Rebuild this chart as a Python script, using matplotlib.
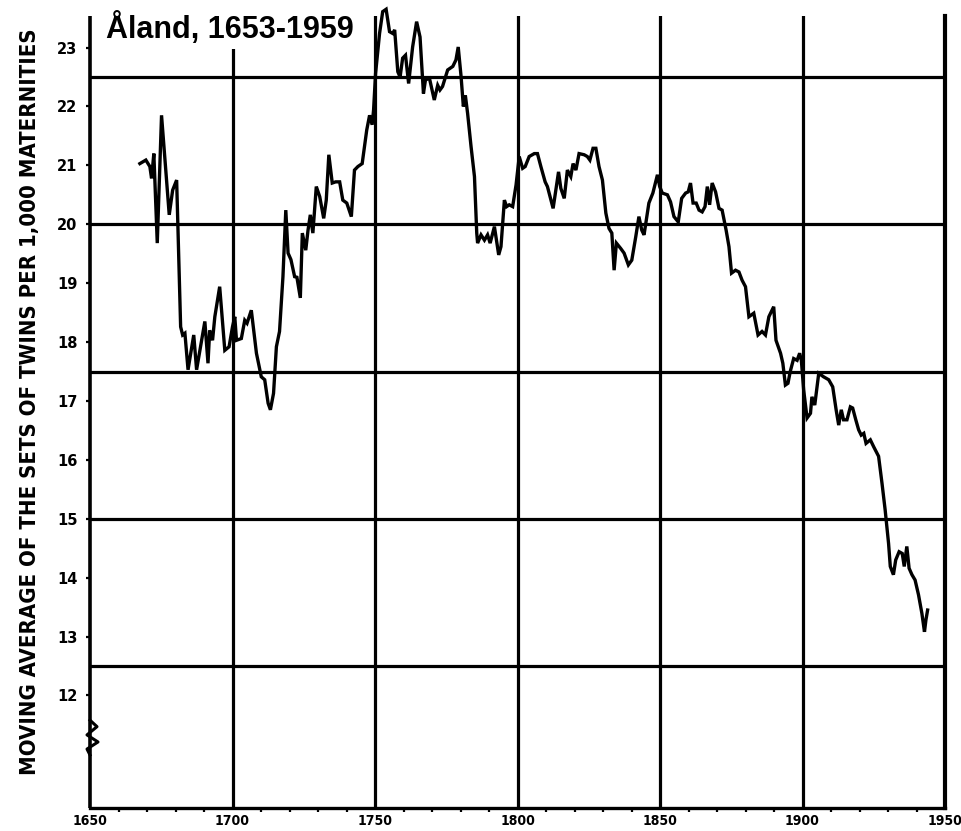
import matplotlib
matplotlib.use("Agg")
import matplotlib.pyplot as plt
import matplotlib.transforms as mtransforms
from matplotlib.ticker import MultipleLocator, FixedLocator

# Moving average of twin sets per 1,000 maternities, Åland
years = [
    1667.5, 1669.6, 1671.0, 1671.6, 1672.4, 1673.6, 1675.1, 1676.3, 1677.8, 1679.0,
    1680.4, 1681.8, 1682.5, 1683.3, 1684.4, 1686.4, 1687.4, 1690.3, 1691.4, 1692.0,
    1693.0, 1693.8, 1695.5, 1697.3, 1698.8, 1700.0, 1700.8, 1701.4, 1703.1, 1704.3,
    1705.1, 1706.6, 1708.4, 1710.1, 1711.3, 1712.5, 1713.3, 1714.4, 1715.4, 1716.5,
    1717.7, 1718.7, 1719.5, 1720.5, 1721.8, 1722.6, 1723.8, 1724.5, 1725.7, 1726.5,
    1727.3, 1728.2, 1729.4, 1730.6, 1732.0, 1732.9, 1733.8, 1735.0, 1736.2, 1737.6,
    1738.7, 1740.1, 1741.7, 1742.8, 1744.0, 1745.5, 1747.1, 1748.1, 1749.0, 1749.5,
    1750.2, 1751.6, 1752.7, 1753.9, 1755.1, 1756.2, 1756.9, 1758.0, 1758.8, 1759.7,
    1760.7, 1761.8, 1763.2, 1764.6, 1765.8, 1767.0, 1767.7, 1769.1, 1770.8, 1772.0,
    1772.8, 1773.7, 1775.5, 1777.3, 1778.4, 1779.2, 1780.2, 1781.0, 1781.7, 1782.5,
    1783.7, 1784.9, 1785.7, 1786.0, 1787.2, 1788.4, 1789.5, 1790.4, 1791.9, 1793.4,
    1794.2, 1795.4, 1796.2, 1797.1, 1798.3, 1799.5, 1800.6, 1801.8, 1802.7, 1804.1,
    1805.9, 1807.0, 1808.2, 1809.7, 1810.5, 1812.5, 1814.4, 1815.2, 1816.4, 1817.5,
    1818.7, 1819.5, 1820.5, 1821.6, 1823.4, 1824.5, 1825.4, 1826.5, 1827.5, 1828.6,
    1829.8, 1831.0, 1832.1, 1833.1, 1833.9, 1834.7, 1836.2, 1837.4, 1838.9, 1840.1,
    1841.5, 1842.6, 1843.6, 1844.4, 1846.1, 1847.5, 1849.1, 1849.9, 1850.8, 1852.6,
    1853.7, 1854.9, 1856.4, 1857.6, 1859.0, 1859.9, 1860.7, 1861.6, 1862.7, 1863.7,
    1864.8, 1865.8, 1866.6, 1867.4, 1868.3, 1869.5, 1870.7, 1871.8, 1873.2, 1874.2,
    1875.1, 1876.5, 1877.7, 1878.8, 1880.0, 1881.2, 1882.9, 1884.4, 1885.8, 1887.0,
    1888.2, 1889.9, 1890.7, 1892.3, 1893.1, 1894.0, 1894.9, 1895.7, 1896.9, 1898.1,
    1899.0, 1899.6, 1900.4, 1901.6, 1902.8, 1903.3, 1904.3, 1905.7, 1907.4, 1909.2,
    1910.6, 1911.8, 1912.7, 1913.6, 1914.4, 1915.6, 1916.8, 1917.6, 1918.7, 1919.7,
    1920.6, 1921.5, 1922.3, 1923.8, 1925.0, 1926.7, 1927.9, 1929.0, 1930.2, 1930.8,
    1931.9, 1932.7, 1933.9, 1935.0, 1935.7, 1936.6, 1937.4, 1938.4, 1939.5, 1940.7,
    1941.9, 1942.8, 1943.3, 1943.9,
]
twin_rate = [
    21.03, 21.09, 20.98, 20.78, 21.20, 19.68, 21.85, 21.09, 20.16, 20.58,
    20.75, 18.26, 18.12, 18.15, 17.53, 18.12, 17.53, 18.35, 17.64, 18.20,
    18.03, 18.43, 18.94, 17.86, 17.92, 18.26, 18.43, 18.03, 18.06, 18.37,
    18.32, 18.54, 17.81, 17.41, 17.36, 16.96, 16.85, 17.13, 17.92, 18.18,
    19.11, 20.24, 19.51, 19.40, 19.11, 19.10, 18.75, 19.85, 19.56, 19.90,
    20.16, 19.85, 20.64, 20.47, 20.10, 20.41, 21.18, 20.70, 20.72, 20.72,
    20.41, 20.36, 20.13, 20.92, 20.98, 21.03, 21.60, 21.85, 21.69, 21.94,
    22.56, 23.24, 23.61, 23.65, 23.27, 23.24, 23.30, 22.59, 22.50, 22.82,
    22.87, 22.39, 23.01, 23.44, 23.18, 22.22, 22.45, 22.48, 22.11, 22.36,
    22.28, 22.34, 22.62, 22.68, 22.79, 23.01, 22.51, 22.00, 22.19, 21.88,
    21.32, 20.81, 19.85, 19.68, 19.82, 19.73, 19.82, 19.68, 19.96, 19.48,
    19.62, 20.41, 20.30, 20.33, 20.30, 20.67, 21.15, 20.95, 20.98, 21.15,
    21.20, 21.20, 20.98, 20.72, 20.64, 20.27, 20.89, 20.61, 20.44, 20.92,
    20.81, 21.03, 20.92, 21.20, 21.18, 21.15, 21.09, 21.29, 21.29, 20.98,
    20.75, 20.19, 19.93, 19.85, 19.22, 19.68, 19.59, 19.51, 19.31, 19.39,
    19.79, 20.13, 19.90, 19.82, 20.36, 20.53, 20.84, 20.64, 20.53, 20.50,
    20.38, 20.13, 20.04, 20.44, 20.53, 20.55, 20.70, 20.36, 20.36, 20.24,
    20.21, 20.30, 20.64, 20.33, 20.70, 20.55, 20.27, 20.24, 19.90, 19.62,
    19.17, 19.22, 19.19, 19.05, 18.94, 18.43, 18.49, 18.12, 18.18, 18.12,
    18.43, 18.60, 18.03, 17.81, 17.64, 17.27, 17.30, 17.50, 17.72, 17.69,
    17.81, 17.69, 17.19, 16.71, 16.79, 17.07, 16.93, 17.47, 17.41, 17.36,
    17.24, 16.85, 16.59, 16.85, 16.68, 16.68, 16.90, 16.88, 16.68, 16.51,
    16.42, 16.45, 16.28, 16.34, 16.22, 16.06, 15.60, 15.15, 14.58, 14.19,
    14.05, 14.30, 14.44, 14.41, 14.19, 14.53, 14.16, 14.05, 13.96, 13.71,
    13.39, 13.08, 13.28, 13.45,
]

x_major_ticks = [1650, 1700, 1750, 1800, 1850, 1900, 1950]
x_tick_labels = ["1650", "1700", "1750", "1800", "1850", "1900", "1950"]
y_ticks = [12, 13, 14, 15, 16, 17, 18, 19, 20, 21, 22, 23]
y_tick_labels = [str(v) for v in y_ticks]
grid_years = [1700, 1750, 1800, 1850, 1900]
grid_levels = [12.5, 15.0, 17.5, 20.0, 22.5]

title = "Åland, 1653-1959"
ylabel = "MOVING AVERAGE OF THE SETS OF TWINS PER 1,000 MATERNITIES"

W, H = 962, 831
fig = plt.figure(figsize=(W / 100, H / 100), dpi=100)
fig.patch.set_facecolor("white")

ax_left, ax_right, ax_top, ax_bottom = 90, 945, 16, 808
ax = fig.add_axes([ax_left / W, 1 - ax_bottom / H,
                   (ax_right - ax_left) / W, (ax_bottom - ax_top) / H])
ax.set_xlim(1650, 1950)
ax.set_ylim(10.089, 23.536)

ink = "black"
grid_lw = 2.3

for gy in grid_levels:
    ax.axhline(gy, color=ink, lw=grid_lw, zorder=1)
for gx in grid_years:
    ax.axvline(gx, color=ink, lw=grid_lw, zorder=1)

# the curve is allowed to run past the top of the frame
ax.plot(years, twin_rate, color=ink, lw=2.4, solid_joinstyle="miter",
        clip_on=False, zorder=3)

# frame: bottom and right spines, left spine broken with a zigzag
ax.spines["top"].set_visible(False)
ax.spines["left"].set_visible(False)
ax.spines["bottom"].set_linewidth(2.4)
ax.spines["right"].set_linewidth(3.0)

trans = mtransforms.blended_transform_factory(ax.transAxes, ax.transData)
span = ax_right - ax_left
ax.plot([0, 0], [10.989, 23.536], color=ink, lw=2.6, transform=trans,
        clip_on=False, solid_capstyle="butt", zorder=4)
ax.plot([0, 0], [10.089, 10.989], color=ink, lw=2.6, transform=trans,
        clip_on=False, solid_capstyle="butt", zorder=4)
zig_dx = [0.0, 7.0, -3.0, 8.0, -3.0, 0.0]
zig_y = [11.58, 11.47, 11.33, 11.21, 11.09, 10.989]
ax.plot([d / span for d in zig_dx], zig_y, color=ink, lw=2.2,
        transform=trans, clip_on=False, zorder=4)

ax.xaxis.set_major_locator(FixedLocator(x_major_ticks))
ax.set_xticklabels(x_tick_labels, fontsize=10, fontweight="bold",
                   fontstretch="condensed")
ax.xaxis.set_minor_locator(MultipleLocator(10))
ax.tick_params(axis="x", which="major", length=0, pad=4)
ax.tick_params(axis="x", which="minor", length=3, width=1.6,
               direction="out")

ax.yaxis.set_major_locator(FixedLocator(y_ticks))
ax.set_yticklabels(y_tick_labels, fontsize=10.5, fontweight="bold")
ax.tick_params(axis="y", which="major", length=3, width=1.6,
               direction="out", pad=6, left=True, right=False)

fig.text(106 / W, 1 - 38 / H, title, ha="left", va="baseline",
         fontsize=22, fontweight="bold", family="Liberation Sans",
         bbox=dict(boxstyle="square,pad=0.12", fc="white", ec="none"),
         zorder=10)

fig.text(30 / W, 1 - 402 / H, ylabel, rotation=90, ha="center",
         va="center", fontsize=15.8, family="DejaVu Sans",
         fontstretch="condensed", fontweight="bold")

fig.savefig("out.png", dpi=100, facecolor="white")
